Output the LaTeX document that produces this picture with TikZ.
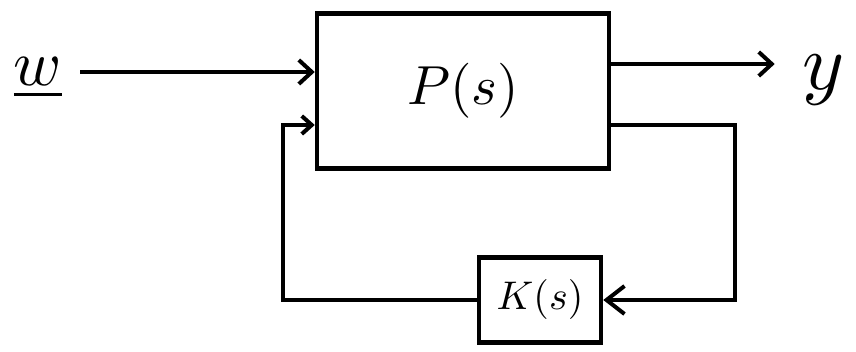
\documentclass[tikz,border=0pt]{standalone}
\usepackage{graphicx}
\usetikzlibrary{arrows.meta}
\begin{document}
\begin{tikzpicture}[x=1pt,y=-1pt,line width=4.5pt,
  >={Straight Barb[length=13pt,width=24pt,line width=4pt]},
  block/.style={draw,line width=4.5pt,inner sep=0pt},
  lbl/.style={inner sep=2pt}]
\useasboundingbox (0,0) rectangle (856,352);
% plant and controller blocks
\node[block,minimum width=292pt,minimum height=155pt] (P) at (463,91)
  {\scalebox{5.5}{$P(s)$}};
\node[block,minimum width=122pt,minimum height=85pt] (K) at (540,300)
  {\scalebox{4}{$K(s)$}};
% exogenous input and controlled output
\node[lbl] (w) at (38,78) {\scalebox{6.5}{$\underline{w}$}};
\node[lbl] (y) at (824,80) {\scalebox{8}{$y$}};
% helper points of the feedback loop
\coordinate (pin) at (P.west |- 0,125);
\coordinate (pout) at (P.east |- 0,125);
\coordinate (lft) at (283,0);
\coordinate (rgt) at (735,0);
% signal paths
\draw[->] ([xshift=14pt]w.east |- 0,72) -- (P.west |- 0,72);
\draw[->] (P.east |- 0,64) -- ([xshift=-24pt]y.west |- 0,64);
\draw[->,>={Straight Barb[length=18pt,width=28pt,line width=4pt]}]
  (pout) -- (pout -| rgt) -- (rgt |- K.east) -- (K.east);
\draw[->,>={Straight Barb[length=10pt,width=18pt,line width=4pt]}]
  (K.west) -- (K.west -| lft) -- (lft |- pin) -- (pin);
\end{tikzpicture}
\end{document}
